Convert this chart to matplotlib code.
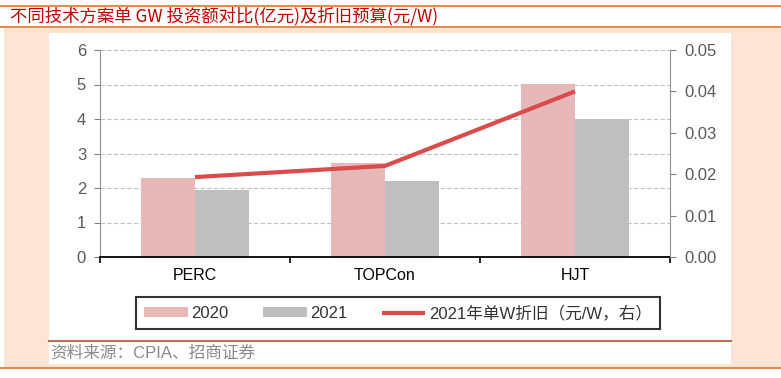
import numpy as np
import matplotlib.pyplot as plt
from matplotlib.patches import Rectangle
from matplotlib.lines import Line2D

plt.rcParams['font.family'] = ['Liberation Sans', 'Noto Sans CJK SC']

# 数据
categories = ['PERC', 'TOPCon', 'HJT']
invest_2020 = [2.28, 2.72, 5.02]
invest_2021 = [1.94, 2.20, 4.00]
depreciation_2021 = [0.0193, 0.0220, 0.0400]
left_ticks = [0, 1, 2, 3, 4, 5, 6]
right_ticks = [0.00, 0.01, 0.02, 0.03, 0.04, 0.05]

c2020 = '#e6b8b7'
c2021 = '#bfbfbf'
cline = '#dc4b4b'
orange = '#ed7d31'
peach = '#fce4d6'

W, H = 781, 378
fig = plt.figure(figsize=(W / 100, H / 100), dpi=100)

# 背景框架
fig.patches.append(Rectangle((4 / W, 1 - 368 / H), 777 / W, 340 / H, transform=fig.transFigure,
                             facecolor=peach, edgecolor='none', zorder=-2))
fig.patches.append(Rectangle((49 / W, 1 - 364 / H), 682 / W, 331 / H, transform=fig.transFigure,
                             facecolor='white', edgecolor='none', zorder=-1))
for yy in [6, 27, 368]:
    fig.add_artist(Line2D([0, 1], [1 - yy / H] * 2, color=orange, lw=1.3, transform=fig.transFigure))
fig.add_artist(Line2D([49 / W, 731 / W], [1 - 341 / H] * 2, color='#c07050', lw=1.5, transform=fig.transFigure))

fig.text(10 / W, 1 - 16 / H, '不同技术方案单 GW 投资额对比(亿元)及折旧预算(元/W)', color='#c00000',
         fontsize=12.5, va='center', ha='left', family=['Noto Sans CJK SC', 'DejaVu Sans'])
fig.text(50 / W, 1 - 353 / H, '资料来源：CPIA、招商证券', color='#8a8a8a', fontsize=12, va='center',
         ha='left', family=['Liberation Sans', 'Noto Sans CJK SC'])

# 主图
ax = fig.add_axes([100 / W, 1 - 257 / H, 570 / W, 207 / H])
ax.set_facecolor('none')
x = np.arange(len(categories))
bw = 0.285
ax.bar(x - bw / 2, invest_2020, bw, color=c2020, label='2020', zorder=2)
ax.bar(x + bw / 2, invest_2021, bw, color=c2021, label='2021', zorder=2)
ax.set_xlim(-0.5, 2.5)
ax.set_ylim(0, 6)
ax.set_yticks(left_ticks)
ax.yaxis.grid(True, color='#c0c0c0', ls=(0, (4, 2)), lw=0.8)
ax.set_axisbelow(True)
ax.set_xticks([-0.5, 0.5, 1.5, 2.5], minor=False)
ax.set_xticklabels([])
ax.set_xticks(x, minor=True)
ax.set_xticklabels(categories, minor=True)
ax.tick_params(axis='x', which='minor', length=0, labelsize=11.5, pad=8)
ax.tick_params(axis='x', which='major', length=4, width=1.2, color='black')
ax.tick_params(axis='y', length=4, color='#808080', labelsize=12, labelcolor='#595959', pad=6)
for s in ['top', 'right']:
    ax.spines[s].set_visible(False)
ax.spines['left'].set_color('#909090')
ax.spines['bottom'].set_color('black')
ax.spines['bottom'].set_linewidth(1.3)

ax2 = ax.twinx()
ax2.plot(x, depreciation_2021, color=cline, lw=3, solid_capstyle='butt',
         label='2021年单W折旧（元/W，右）', zorder=3)
ax2.set_ylim(0, 0.05)
ax2.set_yticks(right_ticks)
ax2.set_yticklabels([f'{v:.2f}' for v in right_ticks])
ax2.tick_params(axis='y', length=4, color='#808080', labelsize=12, labelcolor='#595959', pad=6)
for s in ['top', 'left', 'bottom']:
    ax2.spines[s].set_visible(False)
ax2.spines['right'].set_color('#909090')

h1, l1 = ax.get_legend_handles_labels()
h2, l2 = ax2.get_legend_handles_labels()
leg = fig.legend(h1 + h2, l1 + l2, ncol=3, loc='center', bbox_to_anchor=(398 / W, 1 - 313 / H),
                 frameon=True, fancybox=False, edgecolor='black', fontsize=12,
                 handlelength=2.6, handleheight=0.5, handletextpad=0.2, columnspacing=2.1,
                 borderpad=0.5, borderaxespad=0)
leg.get_frame().set_linewidth(1.5)
for t in leg.get_texts():
    t.set_color('#333333')

fig.savefig('out.png', dpi=100)
